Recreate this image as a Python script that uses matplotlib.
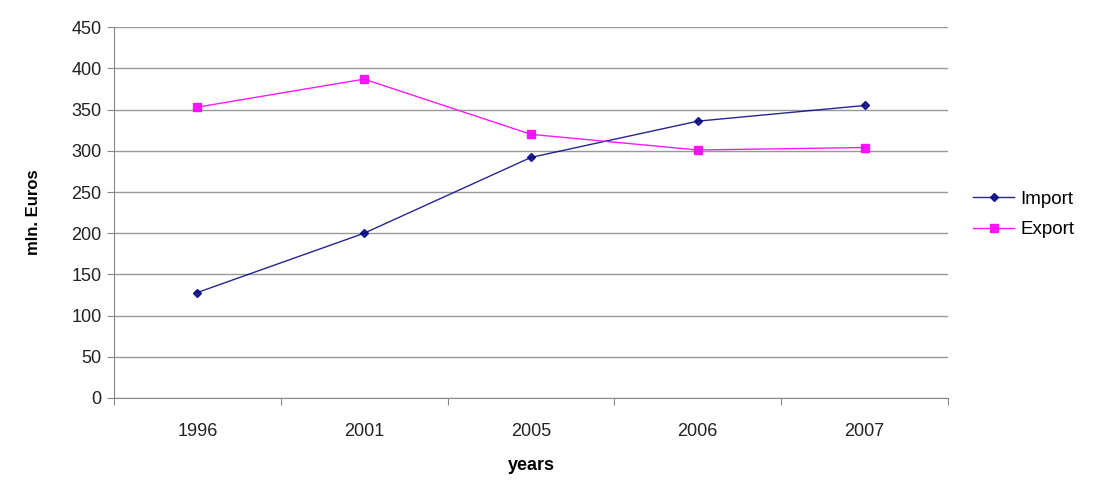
import matplotlib
matplotlib.use("Agg")
import matplotlib.pyplot as plt
import numpy as np

years = ["1996", "2001", "2005", "2006", "2007"]
import_vals = [128, 200, 292, 336, 355]
export_vals = [353, 387, 320, 301, 304]

plt.rcParams['font.family'] = ['Liberation Sans', 'DejaVu Sans']

fig = plt.figure(figsize=(10.99, 4.95), dpi=100)
ax = fig.add_axes([0.1037, 0.196, 0.7589, 0.749])

x = np.arange(len(years))
ax.plot(x, import_vals, color='#000080', lw=1.0, marker='D', ms=4.5, label='Import', alpha=0.85,
        markerfacecolor='#000080', markeredgecolor='#000080')
ax.plot(x, export_vals, color='#ff00ff', lw=1.0, marker='s', ms=5.5, label='Export', alpha=0.9,
        markerfacecolor='#ff00ff', markeredgecolor='#ff00ff')

ax.set_xlim(-0.5, len(years) - 0.5)
ax.set_ylim(0, 450)
ax.set_yticks(np.arange(0, 451, 50))
ax.set_xticks(np.arange(-0.5, len(years), 1.0))
ax.set_xticklabels([])
ax.set_xticks(x, minor=True)
ax.set_xticklabels(years, minor=True)
ax.tick_params(axis='x', which='minor', length=0, pad=18, labelsize=13, colors='#222222')
ax.tick_params(axis='x', which='major', length=5, direction='out', color='#888888')
ax.tick_params(axis='y', length=5, direction='out', color='#888888', labelsize=13, labelcolor='#222222', pad=4)

ax.grid(axis='y', color='#999999', lw=1.0)
ax.set_axisbelow(True)
for s in ['top', 'right']:
    ax.spines[s].set_visible(False)
for s in ['left', 'bottom']:
    ax.spines[s].set_color('#888888')

ax.set_xlabel('years', fontsize=13, fontweight='bold', labelpad=12)
ax.set_ylabel('mln. Euros', fontsize=12, fontweight='bold', labelpad=22)

leg = ax.legend(loc='center left', bbox_to_anchor=(1.01, 0.495), frameon=False, fontsize=13.5,
                handlelength=2.2, handletextpad=0.3, labelspacing=0.7)

fig.savefig('out.png', dpi=100)
